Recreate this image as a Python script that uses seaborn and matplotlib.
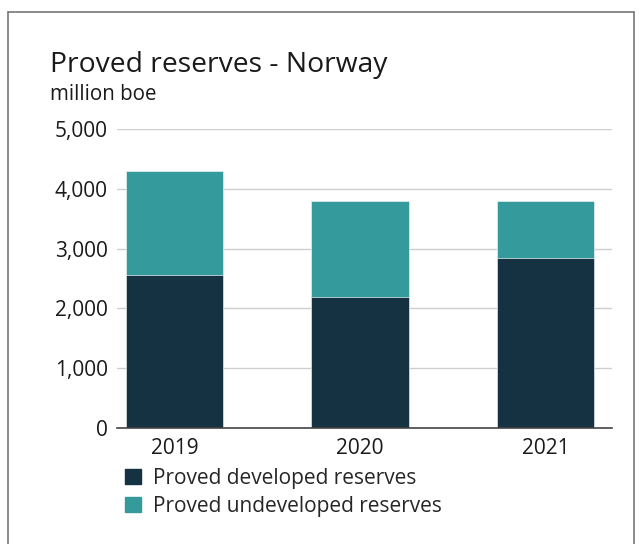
import matplotlib
matplotlib.use("Agg")
import matplotlib.pyplot as plt
import matplotlib.patches as mpatches
import matplotlib.lines as mlines
import seaborn as sns
import pandas as pd

# ------------------------------------------------------------
# Data (million boe)
# ------------------------------------------------------------
years = ["2019", "2020", "2021"]
developed = [2560, 2190, 2840]
undeveloped = [1740, 1610, 960]

dev_color = "#143241"
undev_color = "#359a9b"

df = pd.DataFrame({"year": years, "developed": developed, "undeveloped": undeveloped})
df["total"] = df["developed"] + df["undeveloped"]

sns.set_theme(style="white")
plt.rcParams["font.family"] = ["Open Sans", "DejaVu Sans"]

fig = plt.figure(figsize=(6.41, 5.44), dpi=100)
fig.patch.set_facecolor("white")
ax = fig.add_axes([117 / 641, 1 - 428 / 544, 495 / 641, 299 / 544])

# stacked bars: total (teal) first, developed (navy) on top
sns.barplot(data=df, x="year", y="total", color=undev_color, width=0.525,
            saturation=1, ax=ax)
sns.barplot(data=df, x="year", y="developed", color=dev_color, width=0.525,
            saturation=1, ax=ax)
for p in ax.patches:
    p.set_edgecolor("#e8f0f0")
    p.set_linewidth(0.5)

ax.set_ylim(0, 5000)
ax.set_xlim(-0.31, 2.357)
ax.set_yticks([0, 1000, 2000, 3000, 4000, 5000])
ax.set_yticklabels([f"{v:,}" for v in range(0, 5001, 1000)])
ax.yaxis.grid(True, color="#cfcfcf", linewidth=1)
ax.set_axisbelow(True)
for s in ["top", "right", "left"]:
    ax.spines[s].set_visible(False)
ax.spines["bottom"].set_color("#444444")
ax.spines["bottom"].set_linewidth(1.2)
ax.set_xlabel("")
ax.set_ylabel("")
ax.tick_params(axis="y", length=0, pad=6.5, labelsize=15, colors="#1a1a1a")
ax.tick_params(axis="x", length=0, pad=7.5, labelsize=15, colors="#1a1a1a")

# title and unit
fig.text(50 / 641, 1 - 72 / 544, "Proved reserves - Norway", fontsize=20.3,
         color="#1a1a1a", ha="left", va="baseline")
fig.text(50 / 641, 1 - 100 / 544, "million boe", fontsize=14.8,
         color="#1a1a1a", ha="left", va="baseline")

# legend
handles = [
    mpatches.Patch(color=dev_color, label="Proved developed reserves"),
    mpatches.Patch(color=undev_color, label="Proved undeveloped reserves"),
]
fig.legend(handles=handles, loc="upper left", bbox_to_anchor=(125 / 641, 1 - 468 / 544),
           frameon=False, fontsize=15, handlelength=0.77, handleheight=0.75,
           handletextpad=0.58, labelspacing=0.32, borderaxespad=0, borderpad=0)

# thin frame around the graphic
frame_kw = dict(color="#777777", linewidth=1.2, transform=fig.transFigure)
fig.add_artist(mlines.Line2D([8 / 641, 8 / 641], [0, 1 - 12 / 544], **frame_kw))
fig.add_artist(mlines.Line2D([8 / 641, 634 / 641], [1 - 12 / 544, 1 - 12 / 544], **frame_kw))
fig.add_artist(mlines.Line2D([634 / 641, 634 / 641], [0, 1 - 12 / 544], **frame_kw))

fig.savefig("out.png", dpi=100, facecolor="white")
